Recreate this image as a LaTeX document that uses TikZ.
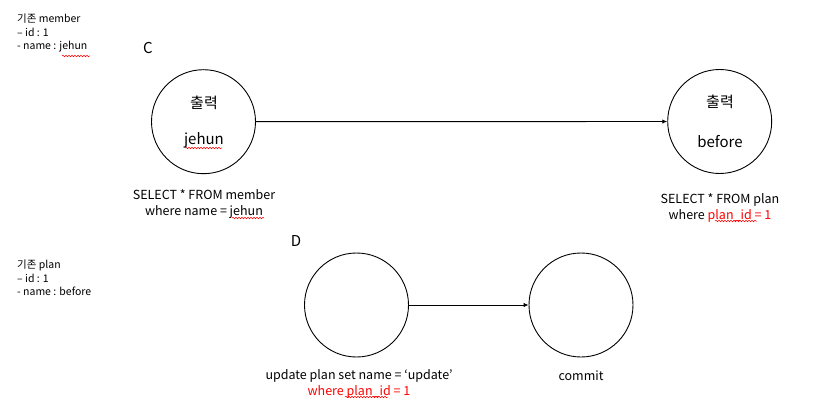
\documentclass[tikz,border=0pt]{standalone}
\usepackage{fontspec}
\setmainfont{Noto Sans CJK KR}
\usetikzlibrary{arrows.meta,decorations.pathmorphing}
\begin{document}
\begin{tikzpicture}[x=1pt,y=-1pt,
  circ/.style={circle,draw=black,line width=0.9pt,minimum size=104pt,inner sep=0pt},
  big/.style={font=\fontsize{15}{16}\selectfont},
  lbl/.style={font=\fontsize{12.5}{16}\selectfont,align=center,inner sep=0pt},
  note/.style={font=\fontsize{10.5}{13.3}\selectfont,align=left,inner sep=0pt,anchor=north west},
  conn/.style={line width=0.9pt,-{Latex[length=5pt,width=4.5pt]}},
  squig/.style={red,line width=0.5pt,decorate,decoration={snake,amplitude=0.8pt,segment length=3pt}}]
\useasboundingbox (0,0) rectangle (817,417);
% notes
\node[note] (n1) at (17,14) {기존 member\\– id : 1\\- name : jehun};
\node[note] (n2) at (17,260) {기존 plan\\– id : 1\\- name : before};
\node[big,inner sep=0pt] (C) at (148,48) {C};
\node[big,inner sep=0pt] (D) at (296,241) {D};
% circles
\node[circ] (c1) at (203.5,121.7) {};
\node[circ] (c2) at (719.7,121.5) {};
\node[circ] (d1) at (356.5,305) {};
\node[circ] (d2) at (581,305) {};
\node[big,inner sep=0pt] (c1a) at (204,103) {출력};
\node[big,inner sep=0pt] (c1b) at (204,140) {jehun};
\node[big,inner sep=0pt] (c2a) at (720,102) {출력};
\node[big,inner sep=0pt] (c2b) at (720,142) {before};
% labels
\node[lbl] (l1) at (204,204.5) {SELECT * FROM member\\where name = jehun};
\node[lbl] (l2) at (720,207.5) {SELECT * FROM plan\\where \textcolor{red}{plan\_id = 1}};
\node[lbl] (l3) at (359,384) {update plan set name = ‘update’\\\textcolor{red}{where plan\_id = 1}};
\node[lbl] (l4) at (581,376) {commit};
% connectors
\draw[conn] (c1) -- (c2);
\draw[conn] (d1) -- (d2);
% spell-check squiggles
\draw[squig] (62,56) -- (90,56);
\draw[squig] (185,148) -- (222,148);
\draw[squig] (232,218) -- (264,218);
\draw[squig] (715,221) -- (757,221);
\draw[squig] (345,397) -- (388,397);
\end{tikzpicture}
\end{document}
